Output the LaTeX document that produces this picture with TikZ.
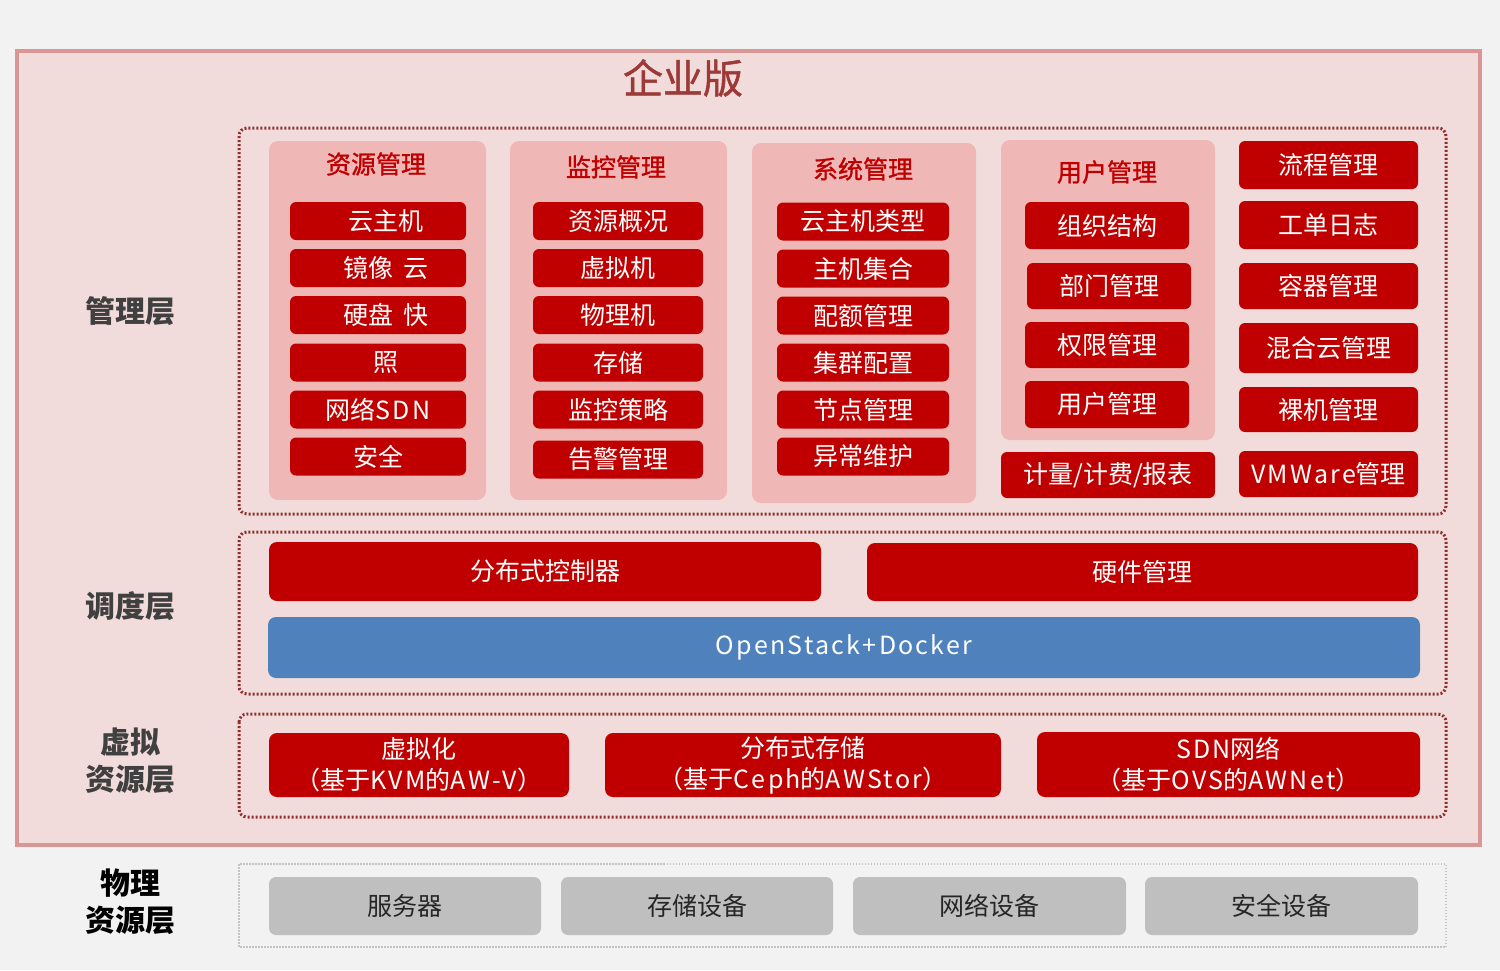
\documentclass[tikz,border=0pt]{standalone}
\usepackage{fontspec}
\setmainfont{Noto Sans CJK SC}
\newfontfamily\medfont[FakeBold=1.3]{Noto Sans CJK SC}
\newfontfamily\latfont[LetterSpace=9]{Noto Sans CJK SC}
\usetikzlibrary{positioning}
\definecolor{bgc}{HTML}{F2F2F2}
\definecolor{framefill}{HTML}{F2DCDB}
\definecolor{frameline}{HTML}{D99694}
\definecolor{panelfill}{HTML}{EFB7B6}
\definecolor{boxred}{HTML}{C00000}
\definecolor{titlered}{HTML}{9C3A38}
\definecolor{dotred}{HTML}{8E3030}
\definecolor{blueb}{HTML}{4F81BD}
\definecolor{grayb}{HTML}{BFBFBF}
\definecolor{graydot}{HTML}{C4C4C4}
\definecolor{labelc}{HTML}{404040}
\newcommand{\lt}[1]{{\latfont #1}}
\tikzset{
  rbox/.style={fill=boxred, draw=none, rounded corners=6pt, text=white, inner sep=0pt,
    font=\fontsize{25}{29}\selectfont, align=center},
  panel/.style={fill=panelfill, draw=none, rounded corners=9pt},
  ptitle/.style={text=boxred, font=\fontsize{25}{29}\selectfont\medfont},
  dotframe/.style={draw=dotred, line width=3pt, dash pattern=on 2pt off 2pt, rounded corners=8pt},
  grayframe/.style={draw=graydot, line width=2.5pt, dash pattern=on 1.5pt off 1.5pt},
  laylabel/.style={text=labelc, font=\fontsize{30}{37}\selectfont\bfseries, align=center},
  gbox/.style={fill=grayb, draw=none, rounded corners=7pt, text=black!85, inner sep=0pt,
    font=\fontsize{25}{29}\selectfont},
}
\begin{document}
\begin{tikzpicture}[x=1pt,y=-1pt]
\fill[bgc] (0,0) rectangle (1500,970);
\useasboundingbox (0,0) rectangle (1500,970);
% outer frame
\draw[fill=framefill, draw=frameline, line width=4pt] (17,51) rectangle (1480,845);
\node[text=titlered, font=\fontsize{40}{46}\selectfont\medfont] (title) at (683,78) {企业版};
% dotted frames
\draw[dotframe] (239,128) rectangle (1446,514);
\draw[dotframe] (239,532) rectangle (1446,694);
\draw[dotframe] (239,714) rectangle (1446,817);
\draw[grayframe] (239,864) rectangle (1446,947);
% layer labels
\node[laylabel] (l1) at (130,311) {管理层};
\node[laylabel] (l2) at (130,606) {调度层};
\node[laylabel, text=labelc] (l3) at (130,761) {虚拟\\资源层};
\node[laylabel, text=black] (l4) at (130,902) {物理\\资源层};
% panels
\draw[panel] (269,141) rectangle (486,500);
\draw[panel] (510,141) rectangle (727,500);
\draw[panel] (752,143) rectangle (976,503);
\draw[panel] (1001,140) rectangle (1215,440);
\node[ptitle] (t1) at (376,164) {资源管理};
\node[ptitle] (t2) at (616,167) {监控管理};
\node[ptitle] (t3) at (863,169) {系统管理};
\node[ptitle] (t4) at (1107,172) {用户管理};
% column 1
\foreach \n/\y/\t in {a1/221/\hspace{16pt}云主机, a2/268/\hspace{16pt}镜像\hspace{10pt}云, a3/315/\hspace{16pt}硬盘\hspace{10pt}快, a4/362.5/\hspace{16pt}照, a5/409.5/网络\lt{SDN}, a6/456.5/安全}
  \node[rbox, minimum width=176pt, minimum height=38pt] (\n) at (378,\y) {\t};
% column 2
\foreach \n/\y/\t in {b1/221/资源概况, b2/268/虚拟机, b3/315/物理机, b4/362.5/存储, b5/409.5/监控策略, b6/459.5/告警管理}
  \node[rbox, minimum width=170pt, minimum height=38pt] (\n) at (618,\y) {\t};
% column 3
\foreach \n/\y/\t in {c1/221.5/云主机类型, c2/268.5/主机集合, c3/315.5/配额管理, c4/362.5/集群配置, c5/409.5/节点管理, c6/456.5/异常维护}
  \node[rbox, minimum width=172pt, minimum height=38pt] (\n) at (863,\y) {\t};
% column 4
\node[rbox, minimum width=164pt, minimum height=47pt] (d1) at (1107,225.5) {\raisebox{-4pt}{组织结构}};
\node[rbox, minimum width=164pt, minimum height=46pt] (d2) at (1109,286) {部门管理};
\node[rbox, minimum width=164pt, minimum height=46pt] (d3) at (1107,345) {权限管理};
\node[rbox, minimum width=164pt, minimum height=47pt] (d4) at (1107,404.5) {用户管理};
\node[rbox, minimum width=214pt, minimum height=46pt] (d5) at (1108,475) {计量{\lt{/}}计费{\lt{/}}报表};
% column 5
\node[rbox, minimum width=179pt, minimum height=48pt] (e1) at (1328.5,165) {流程管理};
\node[rbox, minimum width=179pt, minimum height=48pt] (e2) at (1328.5,225) {工单日志};
\node[rbox, minimum width=179pt, minimum height=46pt] (e3) at (1328.5,286) {容器管理};
\node[rbox, minimum width=179pt, minimum height=50pt] (e4) at (1328.5,348) {混合云管理};
\node[rbox, minimum width=179pt, minimum height=45pt] (e5) at (1328.5,409.5) {裸机管理};
\node[rbox, minimum width=179pt, minimum height=46pt] (e6) at (1328.5,474) {\raisebox{-3pt}{\lt{VMWare}管理}};
% scheduling
\node[rbox, minimum width=552pt, minimum height=59pt, rounded corners=8pt] (s1) at (545,571.5) {分布式控制器};
\node[rbox, minimum width=551pt, minimum height=58pt, rounded corners=8pt] (s2) at (1142.5,572) {硬件管理};
\node[rbox, fill=blueb, minimum width=1152pt, minimum height=61pt, rounded corners=8pt] (s3) at (844,647.5) {\lt{OpenStack+Docker}};
% virtual resources
\node[rbox, minimum width=300pt, minimum height=64pt, rounded corners=8pt, font=\fontsize{25}{31}\selectfont] (v1) at (419,765) {虚拟化\\（基于\lt{KVM}的\lt{AW-V}）};
\node[rbox, minimum width=396pt, minimum height=64pt, rounded corners=8pt, font=\fontsize{25}{31}\selectfont] (v2) at (803,765) {分布式存储\\（基于\lt{Ceph}的\lt{AWStor}）};
\node[rbox, minimum width=383pt, minimum height=65pt, rounded corners=8pt, font=\fontsize{25}{31}\selectfont] (v3) at (1228.5,764.5) {\lt{SDN}网络\\（基于\lt{OVS}的\lt{AWNet}）};
% physical
\node[gbox, minimum width=272pt, minimum height=58pt] (p1) at (405,906) {服务器};
\node[gbox, minimum width=272pt, minimum height=58pt] (p2) at (697,906) {存储设备};
\node[gbox, minimum width=273pt, minimum height=58pt] (p3) at (989.5,906) {网络设备};
\node[gbox, minimum width=273pt, minimum height=58pt] (p4) at (1281.5,906) {安全设备};
\end{tikzpicture}
\end{document}
